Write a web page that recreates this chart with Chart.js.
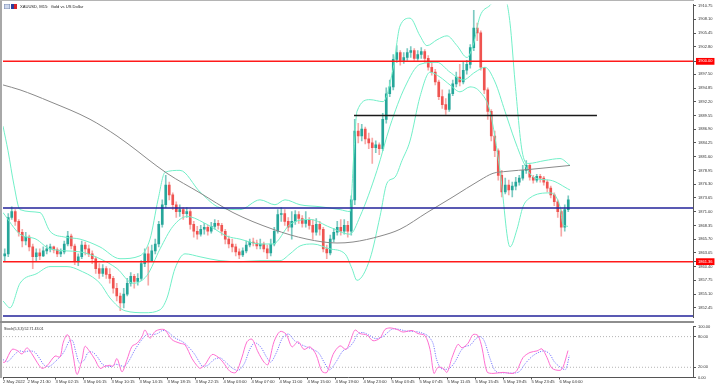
<!DOCTYPE html>
<html>
<head>
<meta charset="utf-8">
<script src="https://cdn.jsdelivr.net/npm/chart.js@4.4.1/dist/chart.umd.min.js"></script>
<style>
html,body{margin:0;padding:0;background:#fff;}
#wrap{position:relative;width:720px;height:388px;overflow:hidden;background:#fff;}
canvas{position:absolute;left:0;}
#c1{top:0;}
#c2{top:322px;}
.fl{position:absolute;left:0;top:0;width:2px;height:378px;background:#a8a8a8;}
.ft{position:absolute;left:0;top:0;width:694px;height:1px;background:#b4b4b4;}
.sep{position:absolute;left:0;top:321px;width:694px;height:2px;background:#8e8e8e;}
.title{position:absolute;left:20px;top:3.5px;font-family:"Liberation Sans",Arial,sans-serif;font-size:4.1px;line-height:5px;color:#222;white-space:pre;}
.ico1{position:absolute;left:4px;top:3.5px;width:6px;height:5px;background:#cdd8ee;box-shadow:inset 0 0 0 0.6px #8090b4;}
.ico2{position:absolute;left:11px;top:3.5px;width:6px;height:5px;background:linear-gradient(90deg,#2b3f9e 50%,#d8242c 50%);}
.stl{position:absolute;left:4px;top:327px;font-family:"Liberation Sans",Arial,sans-serif;font-size:3.6px;line-height:4px;color:#222;white-space:pre;}
</style>
</head>
<body>
<div id="wrap">
<canvas id="c1" width="720" height="322"></canvas>
<canvas id="c2" width="720" height="66"></canvas>
<div class="fl"></div><div class="ft"></div><div class="sep"></div>
<div class="ico1"></div><div class="ico2"></div>
<div class="title">XAUUSD, M15:  Gold vs US Dollar</div>
<div class="stl">Stoch(5,3,3) 52.71 43.01</div>
</div>
<script>
const firstOpen = 1862.49;
const closes = [
1862.87,1869.88,1871.02,1869.12,1867.04,1865.34,1866.09,1864.20,1862.30,1863.06,
1862.49,1863.44,1863.82,1864.20,1863.63,1862.87,1863.25,1864.77,1866.28,1864.39,
1861.55,1862.30,1864.58,1863.82,1862.87,1861.93,1860.03,1859.08,1860.03,1858.90,
1858.14,1856.24,1854.73,1853.40,1855.11,1857.19,1858.52,1857.57,1858.14,1860.98,
1862.87,1861.55,1863.44,1864.77,1868.55,1872.34,1876.13,1874.24,1872.34,1871.02,
1871.40,1870.64,1871.02,1868.55,1867.23,1866.66,1867.61,1867.99,1867.23,1868.18,
1868.74,1868.37,1867.23,1865.71,1864.77,1864.20,1863.25,1862.68,1863.44,1864.58,
1865.15,1864.96,1864.39,1864.77,1863.82,1863.06,1864.77,1867.23,1870.45,1870.64,
1869.12,1867.99,1869.12,1870.45,1869.69,1868.74,1869.31,1868.37,1867.04,1868.55,
1867.61,1863.82,1863.06,1865.71,1867.04,1867.99,1867.23,1868.37,1867.23,1873.29,
1886.55,1885.60,1886.93,1885.03,1884.28,1883.33,1883.90,1883.14,1888.82,1893.75,
1895.07,1900.37,1901.70,1900.19,1900.75,1901.70,1902.08,1900.56,1901.32,1901.89,
1900.56,1898.86,1897.91,1896.02,1893.18,1891.66,1890.71,1893.75,1895.64,1896.97,
1896.02,1898.29,1899.43,1902.65,1906.44,1905.49,1898.86,1894.50,1890.34,1885.60,
1882.76,1878.02,1874.81,1876.13,1875.18,1875.94,1876.70,1877.46,1878.97,1879.92,
1877.65,1877.08,1877.84,1877.46,1876.70,1875.56,1874.24,1872.91,1871.02,1867.99,
1871.40,1873.29];
const highs = [
1863.82,1870.64,1871.96,1871.40,1869.50,1867.61,1867.04,1866.47,1864.77,1863.82,
1863.82,1864.20,1864.58,1864.77,1864.39,1864.01,1863.82,1865.34,1867.23,1866.66,
1864.77,1862.87,1865.34,1865.15,1864.58,1863.44,1862.30,1860.98,1860.79,1860.41,
1860.03,1858.52,1857.19,1855.30,1856.24,1858.14,1859.27,1858.90,1859.08,1861.55,
1863.82,1864.20,1864.58,1865.71,1869.12,1873.29,1878.02,1876.70,1874.62,1872.91,
1872.34,1871.77,1871.77,1871.40,1869.12,1868.18,1868.37,1868.74,1868.37,1868.93,
1869.50,1869.31,1868.74,1867.61,1866.28,1865.71,1864.77,1863.82,1864.01,1865.34,
1865.71,1865.90,1865.52,1865.71,1865.15,1864.58,1865.71,1867.99,1871.40,1871.77,
1871.40,1869.88,1871.02,1871.21,1871.02,1870.26,1871.02,1869.88,1869.50,1869.69,
1869.12,1867.99,1864.58,1866.47,1867.80,1869.12,1869.50,1869.50,1869.12,1874.05,
1888.82,1888.06,1887.87,1887.31,1886.17,1885.22,1884.65,1884.28,1889.96,1894.88,
1896.40,1901.32,1903.03,1902.08,1901.70,1902.46,1902.84,1902.46,1902.08,1902.65,
1902.27,1901.13,1899.81,1898.48,1896.40,1894.50,1892.80,1894.50,1896.40,1897.91,
1899.43,1899.81,1900.19,1903.22,1909.84,1907.38,1905.87,1898.86,1894.88,1890.71,
1886.55,1883.14,1878.97,1877.46,1877.08,1876.70,1877.65,1878.02,1879.92,1880.87,
1880.30,1878.02,1878.21,1878.21,1877.84,1877.08,1875.94,1874.62,1873.29,1871.40,
1872.34,1874.05];
const lows = [
1861.55,1862.30,1869.50,1868.37,1866.28,1864.20,1864.58,1863.44,1860.03,1861.55,
1861.74,1862.30,1862.87,1863.25,1863.06,1862.30,1862.30,1862.87,1864.39,1863.82,
1860.79,1860.60,1861.93,1862.68,1862.30,1860.98,1859.08,1858.14,1858.52,1858.14,
1857.19,1855.30,1853.78,1851.89,1852.46,1854.73,1856.62,1856.24,1856.81,1857.76,
1860.41,1856.81,1861.55,1862.87,1864.20,1867.99,1871.77,1873.29,1871.40,1869.88,
1870.07,1869.50,1869.88,1867.61,1866.09,1865.71,1866.28,1866.66,1866.47,1866.85,
1867.61,1867.61,1866.47,1864.77,1864.01,1863.25,1862.49,1861.93,1862.30,1863.06,
1864.20,1864.39,1863.82,1863.82,1863.25,1861.93,1862.49,1864.39,1866.85,1869.12,
1868.37,1867.23,1865.71,1868.55,1868.74,1867.99,1867.99,1867.61,1865.71,1866.47,
1866.47,1863.25,1861.93,1862.68,1865.15,1866.47,1866.47,1866.66,1866.09,1866.47,
1872.34,1884.28,1884.65,1884.09,1883.14,1880.30,1882.38,1882.00,1882.76,1888.06,
1893.18,1894.50,1899.81,1899.24,1899.62,1900.19,1900.75,1900.19,1900.19,1900.56,
1899.81,1898.29,1897.34,1895.45,1892.61,1890.90,1889.77,1890.34,1893.37,1895.07,
1895.26,1895.64,1897.53,1898.67,1902.08,1903.97,1898.29,1893.75,1888.82,1884.65,
1881.62,1877.08,1873.86,1874.43,1874.24,1873.86,1875.18,1876.13,1877.08,1878.40,
1877.08,1876.51,1876.70,1876.70,1876.13,1874.81,1873.67,1872.15,1869.88,1866.28,
1867.23,1871.02];

// Bollinger bands and moving average, traced [candle position, price]
const bbUpper = [[-0.5,1887.50],[0.93,1882.76],[2.64,1876.13],[4.36,1871.40],[10.07,1870.83],[12.93,1867.23],[17.21,1866.09],[21.5,1865.71],[27.21,1864.20],[32.93,1861.93],[38.64,1862.49],[41.5,1865.71],[43.79,1873.29],[45.79,1878.59],[50.07,1878.97],[55.79,1874.81],[61.5,1871.77],[67.21,1871.40],[72.93,1873.29],[77.21,1872.34],[80.07,1873.29],[84.36,1872.34],[90.07,1871.96],[95.79,1871.40],[98.64,1871.02],[99.79,1882.76],[100.64,1890.34],[104.36,1892.61],[108.07,1892.23],[110.93,1898.48],[112.93,1906.81],[115.79,1908.33],[118.64,1904.92],[120.64,1903.03],[123.5,1904.16],[126.36,1904.92],[129.21,1903.03],[132.07,1900.75],[133.79,1903.03],[135.79,1908.71],[138.64,1910.79],[140.64,1912.12],[142.93,1912.12],[144.36,1907.38],[145.79,1896.02],[147.79,1882.76],[149.5,1880.30],[154.36,1880.87],[158.64,1881.25],[161.5,1879.92]];
const bbMiddle = [[-0.5,1870.83],[4.36,1866.66],[8.93,1865.71],[12.93,1863.82],[21.5,1863.25],[27.21,1861.93],[32.07,1860.03],[36.64,1857.19],[40.64,1858.71],[44.36,1863.82],[48.07,1868.18],[52.07,1870.07],[57.79,1868.55],[63.5,1866.28],[67.21,1865.71],[72.93,1864.77],[76.64,1864.77],[81.5,1868.55],[87.21,1869.50],[92.93,1867.99],[98.64,1866.66],[101.5,1870.07],[106.36,1878.97],[110.07,1887.50],[114.36,1895.07],[118.64,1899.43],[123.5,1899.81],[127.21,1897.91],[130.93,1896.40],[134.36,1897.91],[137.21,1898.86],[140.07,1896.02],[142.93,1890.34],[145.79,1884.65],[148.64,1879.92],[151.5,1877.46],[155.79,1877.08],[161.5,1875.18]];
const bbLower = [[-0.5,1853.78],[1.5,1852.46],[4.36,1857.19],[9.21,1859.08],[12.93,1860.41],[17.79,1860.41],[21.5,1859.65],[27.21,1857.19],[30.07,1854.35],[34.36,1851.89],[40.07,1851.51],[44.36,1852.08],[46.36,1854.35],[48.64,1860.03],[51.5,1862.87],[55.79,1862.30],[61.5,1861.55],[67.21,1861.36],[72.93,1861.55],[78.64,1861.55],[81.5,1862.87],[84.36,1864.39],[88.07,1864.77],[92.93,1863.82],[97.21,1862.87],[99.21,1860.03],[100.64,1857.76],[104.36,1861.93],[107.21,1870.07],[109.21,1876.51],[111.5,1877.65],[113.5,1880.87],[115.79,1884.65],[118.64,1893.18],[121.5,1897.91],[124.36,1896.97],[127.21,1895.45],[130.07,1894.12],[132.93,1895.07],[135.79,1894.12],[138.64,1890.34],[141.5,1878.97],[144.36,1864.20],[146.36,1867.61],[148.07,1871.96],[150.07,1873.67],[155.79,1874.62],[158.64,1871.96],[159.5,1868.55],[160.93,1868.17]];
const maSlow = [[-0.5,1895.45],[4.36,1894.50],[12.93,1892.23],[24.36,1888.82],[32.07,1885.60],[37.79,1882.76],[40.64,1881.25],[46.36,1878.40],[55.79,1874.62],[65.21,1870.83],[76.64,1867.61],[86.36,1865.71],[94.93,1864.96],[99.5,1865.15],[107.21,1866.28],[112.93,1867.61],[120.64,1870.83],[128.07,1873.86],[135.79,1877.08],[139.5,1878.40],[143.5,1878.78],[150.07,1879.16],[161.5,1879.92]];

// horizontal levels
const redLevels = [1900.00, 1861.36];
const blueLevels = [1871.72, 1850.89];
const blackLevel = 1889.55, blackFrom = 99.79, blackTo = 169.2;

// price axis tick labels
const priceTicks = [1910.75,1908.10,1905.45,1902.80,1900.00,1897.50,1894.85,1892.20,1889.55,1886.90,1884.25,1881.60,1878.95,1876.30,1873.65,1871.00,1868.35,1865.70,1863.05,1861.36,1860.40,1857.75,1855.10,1852.45];
const markedPrices = [1900.00, 1861.36];

// stochastic %K / %D
const stochK = [[-0.5,30],[0.07,30],[2.07,55],[3.5,53],[4.93,46],[6.36,58],[7.79,46],[9.21,30],[10.64,18],[12.07,23],[14.36,42],[15.79,40],[16.64,67],[17.79,84],[18.64,75],[19.5,45],[20.64,6],[22.07,35],[22.93,61],[24.36,50],[25.79,35],[27.21,18],[28.64,22],[30.07,24],[30.93,22],[32.07,37],[33.5,11],[34.93,35],[36.36,61],[37.79,67],[39.21,80],[40.07,93],[41.5,77],[42.93,90],[44.36,94],[45.79,93],[47.79,74],[50.07,67],[51.5,64],[53.5,37],[54.93,23],[55.79,18],[57.21,25],[59.21,45],[60.93,40],[62.36,30],[64.36,12],[66.07,10],[67.79,40],[69.21,70],[70.64,75],[72.36,50],[74.07,30],[75.21,25],[76.93,70],[78.64,90],[80.36,85],[82.07,60],[83.79,70],[85.5,55],[87.21,60],[88.93,45],[90.64,12],[92.07,10],[93.79,45],[95.79,62],[97.5,55],[98.93,75],[100.07,93],[101.5,86],[103.5,83],[105.21,72],[107.21,77],[108.64,94],[110.07,97],[112.07,94],[113.79,89],[116.36,92],[118.07,86],[120.07,82],[121.5,55],[122.64,8],[123.79,20],[125.21,18],[126.36,10],[127.79,39],[129.5,65],[130.64,58],[132.36,67],[133.79,84],[135.21,82],[136.36,58],[137.79,11],[139.5,8],[142.36,10],[145.21,8],[146.36,14],[148.07,39],[150.07,49],[152.07,52],[153.5,56],[154.93,39],[156.36,18],[158.64,14],[159.5,20],[160.93,52.71]];
const stochD = [[-0.5,35],[0.8,31],[2.8,45],[4.2,52],[5.6,50],[7.0,52],[8.5,50],[9.9,38],[11.3,24],[12.8,22],[15.0,35],[16.4,45],[17.3,55],[18.5,72],[19.4,72],[20.3,50],[21.4,28],[22.8,35],[23.7,48],[25.0,50],[26.5,40],[27.9,26],[29.3,22],[30.8,22],[31.6,26],[32.8,24],[34.2,22],[35.6,34],[37.0,52],[38.5,68],[39.9,80],[40.8,85],[42.2,84],[43.6,86],[45.1,92],[46.5,90],[48.5,78],[50.8,70],[52.2,62],[54.2,46],[55.6,30],[56.5,22],[58,24],[60,36],[61.7,38],[63.1,30],[65.1,18],[66.8,14],[68.5,28],[70,55],[71.4,68],[73.1,60],[74.8,40],[76,30],[77.7,50],[79.4,78],[81.1,85],[82.8,72],[84.5,65],[86.2,60],[88,55],[89.7,48],[91.4,28],[92.8,15],[94.6,30],[96.6,52],[98.2,58],[99.7,70],[100.8,85],[102.3,88],[104.3,82],[106,76],[108,80],[109.4,88],[110.8,95],[112.8,94],[114.6,91],[117.1,90],[118.8,88],[120.8,82],[122.3,68],[123.4,35],[124.6,18],[126,16],[127.1,18],[128.6,30],[130.3,52],[131.4,60],[133.1,64],[134.6,76],[136,80],[137.1,70],[138.6,38],[140.3,12],[143.1,9],[146,9],[147.1,12],[148.8,28],[150.8,42],[152.8,50],[154.2,52],[155.7,46],[157.1,30],[159.4,17],[160.3,16],[161.3,43.01]];
const stochLevels = [80, 20];
const stochTicks = [100, 80, 20, 0];

// time axis
const dateTickPos = [-0.5,6.5,14.5,22.5,30.5,38.5,46.5,54.5,62.5,70.5,78.5,86.5,94.5,102.5,110.5,118.5,126.5,134.5,142.5,150.5,158.5];
const dateLabels = ["2 May 2022","2 May 21:30","3 May 02:15","3 May 06:15","3 May 10:15","3 May 14:15","3 May 18:15","3 May 22:15","4 May 03:00","4 May 07:00","4 May 11:00","4 May 15:00","4 May 19:00","4 May 23:00","5 May 03:45","5 May 07:45","5 May 11:45","5 May 15:45","5 May 19:45","5 May 23:45","6 May 04:00"];

// ---------- rendering ----------
const XMIN = -0.5, XMAX = 196.64;
const opens = closes.map((c, i) => i === 0 ? firstOpen : closes[i - 1]);
const BULL = '#26a69a', BEAR = '#ef5350';
const BULLW = 'rgba(38,166,154,0.6)', BEARW = 'rgba(239,83,80,0.5)';
const isUp = i => closes[i] >= opens[i];
const xy = arr => arr.map(([x, y]) => ({x, y}));
const hline = (v, a = XMIN, b = XMAX) => [{x: a, y: v}, {x: b, y: v}];
const FONT = '"Liberation Sans", Arial, sans-serif';
const BB = '#72efc8';

const lineDS = (data, color, order, extra = {}) => Object.assign({
  type: 'line', data, borderColor: color, borderWidth: 1, pointRadius: 0,
  fill: false, order, cubicInterpolationMode: 'monotone', tension: 0.4
}, extra);

const mainDatasets = [
  {type: 'bar', data: closes.map((c, i) => ({x: i, y: [lows[i], highs[i]]})),
   backgroundColor: ctx => isUp(ctx.dataIndex) ? BULLW : BEARW,
   barThickness: 1, grouped: false, borderWidth: 0, order: 11},
  {type: 'bar', data: closes.map((c, i) => ({x: i, y: [opens[i], closes[i]]})),
   backgroundColor: ctx => isUp(ctx.dataIndex) ? BULL : BEAR,
   barThickness: 2, grouped: false, borderWidth: 0, borderSkipped: false, minBarLength: 1, order: 10},
  lineDS(xy(bbUpper), BB, 3),
  lineDS(xy(bbMiddle), BB, 3),
  lineDS(xy(bbLower), BB, 3),
  lineDS(xy(maSlow), '#8a8a8a', 2),
  ...redLevels.map(v => lineDS(hline(v), '#ff1a1a', 0, {borderWidth: 1.5, tension: 0, cubicInterpolationMode: 'default'})),
  ...blueLevels.map(v => lineDS(hline(v), '#22229a', 0, {borderWidth: 1.5, tension: 0, cubicInterpolationMode: 'default'})),
  lineDS(hline(blackLevel, blackFrom, blackTo), '#1a1a1a', 0, {borderWidth: 1.5, tension: 0, cubicInterpolationMode: 'default'})
];

const isMarked = v => markedPrices.some(m => Math.abs(m - v) < 0.001);

new Chart(document.getElementById('c1'), {
  type: 'bar',
  data: {datasets: mainDatasets},
  options: {
    responsive: false, animation: false, devicePixelRatio: 1,
    layout: {padding: {left: 3, top: 1, right: 0, bottom: 2}},
    plugins: {legend: {display: false}, tooltip: {enabled: false}},
    scales: {
      x: {type: 'linear', min: XMIN, max: XMAX, display: false, offset: false, grid: {offset: false}},
      y: {
        position: 'right', min: 1850.57, max: 1910.985, beginAtZero: false,
        afterFit: s => { s.width = 27; },
        afterBuildTicks: s => { s.ticks = priceTicks.map(v => ({value: v})); },
        ticks: {
          autoSkip: false, padding: 2,
          font: {family: FONT, size: 4},
          color: c => isMarked(c.tick.value) ? '#ffffff' : '#333333',
          showLabelBackdrop: c => isMarked(c.tick.value),
          backdropColor: c => isMarked(c.tick.value) ? '#ff0000' : 'rgba(0,0,0,0)',
          backdropPadding: {left: 2, right: 2, top: 1, bottom: 1},
          callback: v => Number(v).toFixed(2)
        },
        grid: {drawOnChartArea: false, tickLength: 3, color: '#555'},
        border: {display: true, color: '#555', width: 1}
      }
    }
  }
});

new Chart(document.getElementById('c2'), {
  type: 'line',
  data: {datasets: [
    ...stochLevels.map(v => lineDS(hline(v), '#b4b4b4', 3, {borderDash: [1, 2], tension: 0, cubicInterpolationMode: 'default'})),
    lineDS(xy(stochD), '#7b7bff', 1, {borderDash: [1.2, 1.2], tension: 0.3, cubicInterpolationMode: 'default'}),
    lineDS(xy(stochK), '#ff6fd0', 0, {tension: 0.3, cubicInterpolationMode: 'default'})
  ]},
  options: {
    responsive: false, animation: false, devicePixelRatio: 1,
    layout: {padding: {left: 3, top: 2.5, right: 0, bottom: 0}},
    plugins: {legend: {display: false}, tooltip: {enabled: false}},
    scales: {
      x: {
        type: 'linear', min: XMIN, max: XMAX, offset: false,
        afterFit: s => { s.height = 10.5; },
        afterBuildTicks: s => { s.ticks = dateTickPos.map(v => ({value: v})); },
        ticks: {autoSkip: false, maxRotation: 0, minRotation: 0, align: 'start', padding: 0,
                font: {family: FONT, size: 4.2}, color: '#333',
                callback: (v, i) => dateLabels[i]},
        grid: {drawOnChartArea: false, tickLength: 2, color: '#555'},
        border: {display: true, color: '#555', width: 1}
      },
      y: {
        position: 'right', min: 0, max: 100,
        afterFit: s => { s.width = 27; },
        afterBuildTicks: s => { s.ticks = stochTicks.map(v => ({value: v})); },
        ticks: {autoSkip: false, padding: 2, font: {family: FONT, size: 4}, color: '#333',
                callback: v => Number(v).toFixed(2)},
        grid: {drawOnChartArea: false, tickLength: 3, color: '#555'},
        border: {display: true, color: '#555', width: 1}
      }
    }
  }
});
</script>
</body>
</html>
